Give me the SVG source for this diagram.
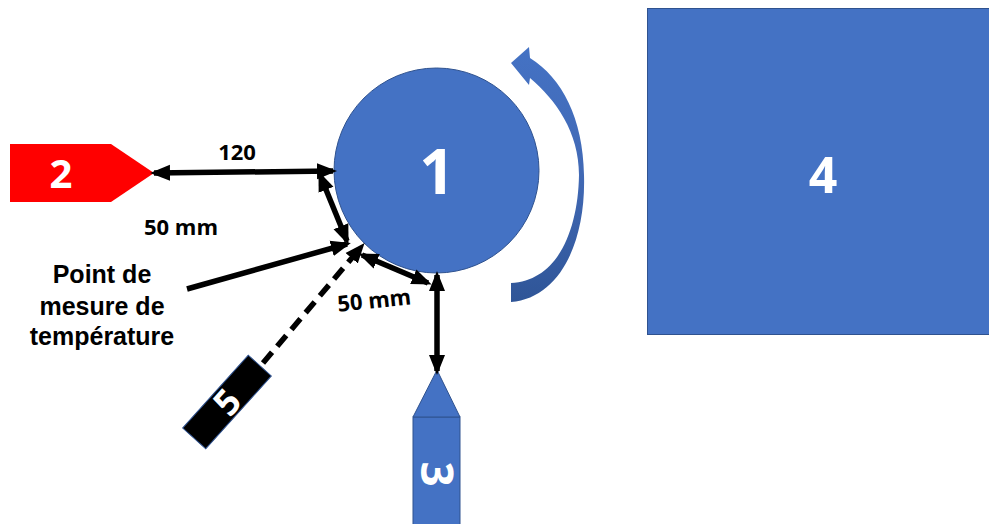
<svg xmlns="http://www.w3.org/2000/svg" width="989" height="524" viewBox="0 0 989 524">
<style>
.blue{fill:#4472C4;stroke:#2F528F;stroke-width:1}
.lbl{font-family:"Open Sans","Liberation Sans",sans-serif;font-weight:700;fill:#fff;text-anchor:middle}
.dim{font-family:"Open Sans","Liberation Sans",sans-serif;font-weight:700;font-size:22px;fill:#000;text-anchor:middle}
.note{font-family:"Liberation Sans",Arial,sans-serif;font-weight:700;font-size:25px;fill:#000;text-anchor:middle}
.conn{stroke:#000;stroke-width:5.5;fill:none}
</style>
<defs>
<marker id="ah" markerUnits="userSpaceOnUse" markerWidth="20" markerHeight="20" viewBox="0 0 20 20" refX="16" refY="10" orient="auto-start-reverse">
<path d="M0,2 L20,10 L0,18 Z" fill="#000"/>
</marker>
<linearGradient id="cg" x1="0" y1="0" x2="0" y2="1">
<stop offset="0" stop-color="#4472C4"/>
<stop offset="0.5" stop-color="#4169B5"/>
<stop offset="1" stop-color="#2F5597"/>
</linearGradient>
</defs>
<g id="node4">
<rect class="blue" x="647.5" y="8.5" width="343" height="326"/>
<text class="lbl" x="823" y="193" font-size="50">4</text>
</g>
<g id="rotation">
<path d="M511,302 C561,298 586,240 584,175 C583,118 562,78 530,58 L529,47 L511,63 L529,85 L530,78 C556,100 579,132 579,175 C578,233 556,281 511,283 Z" fill="url(#cg)"/>
</g>
<g id="node1">
<circle class="blue" cx="436.5" cy="170.5" r="102.5"/>
<text class="lbl" x="437" y="194" font-size="62">1</text>
</g>
<g id="node2">
<polygon points="10,144 111,144 154,173 111,202 10,202" fill="#FF0000"/>
<text class="lbl" x="61" y="188" font-size="40">2</text>
</g>
<g id="node3">
<rect class="blue" x="413" y="417" width="47" height="110"/>
<polygon class="blue" points="437,370 413,417 460,417"/>
<text class="lbl" font-size="44" transform="translate(437,474) rotate(90)" y="16">3</text>
</g>
<g id="node5">
<g transform="translate(227,402) rotate(-48)">
<rect x="-49" y="-15.5" width="98" height="31" fill="#000" stroke="#2F528F" stroke-width="1"/>
<text class="lbl" x="0" y="13" font-size="36">5</text>
</g>
</g>
<g id="connectors">
<line class="conn" x1="154" y1="173" x2="333" y2="171" marker-start="url(#ah)" marker-end="url(#ah)"/>
<line class="conn" x1="320" y1="175" x2="347" y2="241" marker-start="url(#ah)" marker-end="url(#ah)"/>
<line class="conn" x1="187" y1="289" x2="347" y2="244" marker-end="url(#ah)"/>
<line class="conn" x1="263" y1="363" x2="362" y2="246" stroke-dasharray="14,8" marker-end="url(#ah)"/>
<line class="conn" x1="362" y1="255" x2="428" y2="283" marker-start="url(#ah)" marker-end="url(#ah)"/>
<line class="conn" x1="437" y1="275" x2="437" y2="371" marker-start="url(#ah)" marker-end="url(#ah)"/>
</g>
<g id="labels">
<text class="dim" x="237" y="160">120</text>
<text class="dim" x="181" y="235">50 mm</text>
<text class="dim" transform="translate(375,308) rotate(-6)">50 mm</text>
<text class="note" x="102" y="283">Point de</text>
<text class="note" x="102" y="315">mesure de</text>
<text class="note" x="102" y="345">température</text>
</g>
</svg>
